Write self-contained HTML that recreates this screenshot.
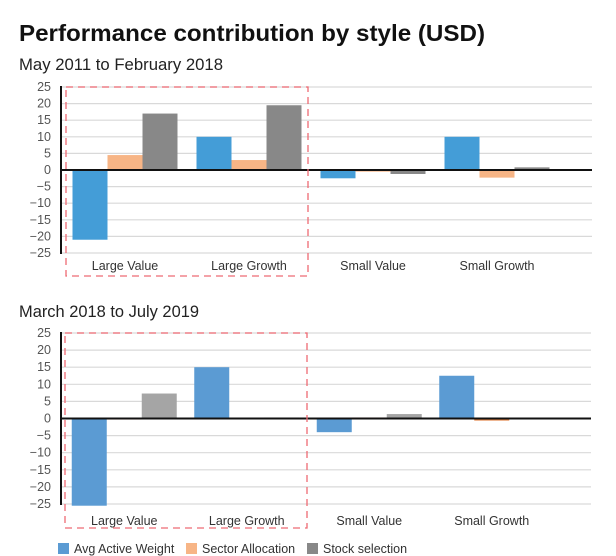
<!DOCTYPE html>
<html><head><meta charset="utf-8"><style>
body{margin:0;background:#fff;}
svg{display:block;font-family:"Liberation Sans",sans-serif;}
</style></head><body>
<svg id="c" width="616" height="556" viewBox="0 0 616 556" xmlns="http://www.w3.org/2000/svg">
<rect width="616" height="556" fill="#fff"/>
<text x="19" y="41" font-size="23" font-weight="bold" fill="#111" textLength="466" lengthAdjust="spacingAndGlyphs">Performance contribution by style (USD)</text>
<text x="19" y="70" font-size="17" fill="#222" textLength="204" lengthAdjust="spacingAndGlyphs">May 2011 to February 2018</text>
<text x="19" y="317" font-size="17" fill="#222" textLength="180" lengthAdjust="spacingAndGlyphs">March 2018 to July 2019</text>
<g id="p1"></g>
<g id="p2"></g>
<g id="legend">
<rect x="58" y="543" width="11" height="11" fill="#5b9bd3"/>
<text x="74" y="553" font-size="12.5" fill="#333">Avg Active Weight</text>
<rect x="186" y="543" width="11" height="11" fill="#f7b586"/>
<text x="202" y="553" font-size="12.5" fill="#333">Sector Allocation</text>
<rect x="307" y="543" width="11" height="11" fill="#888"/>
<text x="323" y="553" font-size="12.5" fill="#333">Stock selection</text>
</g>
</svg>
<script>
const categories = ["Large Value","Large Growth","Small Value","Small Growth"];
const seriesNames = ["Avg Active Weight","Sector Allocation","Stock selection"];
const p1Active = [-21, 10, -2.5, 10];
const p1Sector = [4.5, 3, -0.5, -2.3];
const p1Stock = [17, 19.5, -1.2, 0.8];
const p2Active = [-25.5, 15, -4, 12.5];
const p2Sector = [-0.3, -0.2, 0.3, -0.6];
const p2Stock = [7.3, 0.3, 1.3, 0];
const yTicks = [25,20,15,10,5,0,-5,-10,-15,-20,-25];

const NS = "http://www.w3.org/2000/svg";
function mk(tag, attrs, parent){const e=document.createElementNS(NS,tag);for(const k in attrs)e.setAttribute(k,attrs[k]);parent.appendChild(e);return e;}

function drawPanel(g, cfg, series, colors){
  const y = v => cfg.y0 + (25 - v) / 50 * (cfg.y1 - cfg.y0);
  const x = i => cfg.x0 + i * cfg.gw;
  yTicks.forEach(t=>{
    const l = mk("line",{x1:61,x2:cfg.right,y1:y(t),y2:y(t),stroke:"#d9d9d9","stroke-width":1.2},g);
    
    
    const tx = mk("text",{x:51,y:y(t)+4,"font-size":12.5,fill:"#555","text-anchor":"end"},g);
    tx.textContent = t<0 ? "\u2212"+(-t) : String(t);
    
    
  });
  const bw = cfg.bw;
  series.forEach((arr,s)=>{
    arr.forEach((v,i)=>{
      const cx = x(i) + cfg.gw/2 + (s-1)*bw;
      const top = Math.min(y(v),y(0)), h = Math.max(Math.abs(y(v)-y(0)),1);
      const r = mk("rect",{x:cx-bw/2,y:top,width:bw,height:h,fill:colors[s]},g);
      
      
    });
  });
  const z = mk("line",{x1:61,x2:cfg.right,y1:y(0),y2:y(0),stroke:"#111","stroke-width":2},g);
  
  
  const ax = mk("line",{x1:61,x2:61,y1:y(25)-1,y2:y(-25)+1,stroke:"#111","stroke-width":2},g);
  
  
  categories.forEach((c,i)=>{
    const t = mk("text",{x:x(i)+cfg.gw/2,y:cfg.labelY,"font-size":12.5,fill:"#333","text-anchor":"middle"},g);
    t.textContent = c;
    
    
  });
  const box = mk("rect",{x:cfg.box[0],y:cfg.box[1],width:cfg.box[2],height:cfg.box[3],fill:"none",stroke:"#ee6a73","stroke-width":1.3,"stroke-dasharray":"7,5"},g);
  
  
}
drawPanel(document.getElementById('p1'),{y0:87,y1:253,x0:63,gw:124,bw:35,right:592,labelY:270,box:[66,87,242,189]},
  [p1Active,p1Sector,p1Stock],["#449dd7","#f7b586","#888888"]);
drawPanel(document.getElementById('p2'),{y0:333,y1:504,x0:63,gw:122.5,bw:35,right:591,labelY:525,box:[65,333,242,195]},
  [p2Active,p2Sector,p2Stock],["#5b9bd3","#e07b39","#a5a5a5"]);
</script>
</body></html>
